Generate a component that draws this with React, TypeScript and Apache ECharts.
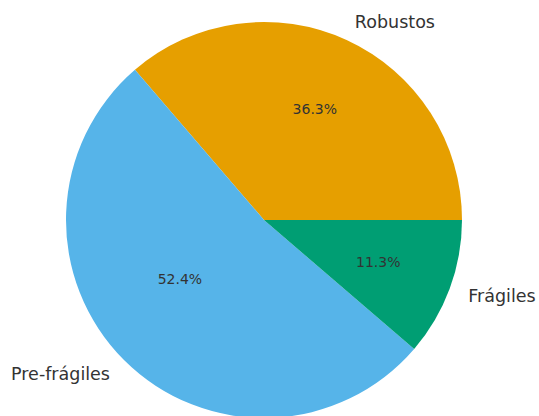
import React, { useEffect, useRef } from "react";
import * as echarts from "echarts";

const categories = ["Robustos", "Pre-frágiles", "Frágiles"];
const values = [36.3, 52.4, 11.3];
const colors = ["#E69F00", "#56B4E9", "#009E73"];
// percent-label line height per slice (Pre-frágiles label sits higher in the reference)
const pctLift = [0, 54, 0];

const W = 539;
const H = 416;
const CX = 264;
const CY = 220;
const R = 198;

export default function App() {
  const ref = useRef<HTMLDivElement>(null);
  useEffect(() => {
    document.body.style.margin = "0";
    const chart = echarts.init(ref.current!, undefined, { renderer: "svg" });
    const data = categories.map((name, i) => ({
      name,
      value: values[i],
      itemStyle: { color: colors[i] },
    }));
    chart.setOption({
      animation: false,
      backgroundColor: "#ffffff",
      series: [
        {
          type: "pie",
          center: [CX, CY],
          radius: [0, R],
          startAngle: 0,
          clockwise: false,
          avoidLabelOverlap: false,
          silent: true,
          data,
          label: {
            show: true,
            position: "outside",
            formatter: "{b}",
            fontFamily: "DejaVu Sans",
            fontSize: 17.5,
            color: "#333333",
            padding: [4, 0, 0, 0],
            distanceToLabelLine: 0,
            alignTo: "none",
          },
          labelLine: { show: false, length: R * 0.1, length2: 0 },
          emphasis: { disabled: true },
        },
        {
          type: "pie",
          center: [CX, CY],
          radius: [0, R * 1.2],
          startAngle: 0,
          clockwise: false,
          avoidLabelOverlap: false,
          silent: true,
          data: categories.map((name, i) => ({
            name,
            value: values[i],
            label: pctLift[i]
              ? {
                  lineHeight: pctLift[i],
                  padding: [0, 0, 0, 4],
                  formatter: (p: any) => p.percent.toFixed(1) + "%\n ",
                }
              : {},
          })),
          itemStyle: { color: "rgba(0,0,0,0)" },
          label: {
            show: true,
            position: "inside",
            formatter: (p: any) => p.percent.toFixed(1) + "%",
            fontFamily: "DejaVu Sans",
            fontSize: 14,
            color: "#333333",
          },
          labelLine: { show: false },
          emphasis: { disabled: true },
        },
      ],
    });
    return () => chart.dispose();
  }, []);
  return (
    <div
      ref={ref}
      style={{ position: "absolute", left: 0, top: 0, width: W, height: H }}
    />
  );
}
